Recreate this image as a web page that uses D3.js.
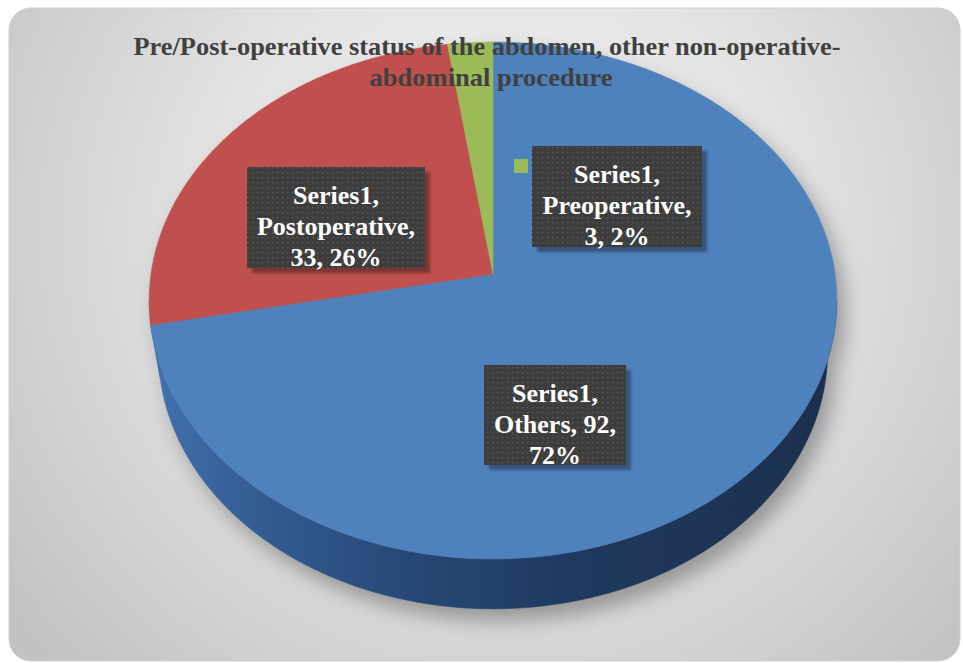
<!DOCTYPE html>
<html><head><meta charset="utf-8">
<script src="https://cdn.jsdelivr.net/npm/d3@7"></script>
<style>html,body{margin:0;padding:0;background:#fff;}svg{display:block;}</style>
</head><body>
<svg id="chart" width="963" height="663"></svg>
<script>
// ---- data ----
const categories = ["Others", "Postoperative", "Preoperative"];
const values = [92, 33, 3];
const percents = ["72%", "26%", "2%"];
const seriesName = "Series1";
const titleLines = ["Pre/Post-operative status of the abdomen, other non-operative-", "abdominal procedure"];

// ---- styling / layout ----
const topColors = ["#4f81bd", "#c0504d", "#9bbb59"];
const sideColors = ["url(#blueSide)", "#3f6ba6", "#6f8a3c"];
const cx = 493, cy = 274;          // projected pie centre
const tilt = 48.4 * Math.PI / 180;  // view tilt
const s = Math.sin(tilt), c = Math.cos(tilt);
const D = 6.48, f = 2216, depth = 0.238;

function proj(theta, r, yUp) {
  const X = r * Math.sin(theta), Z = r * Math.cos(theta);
  const Yc = yUp * c + Z * s;
  const Zc = -yUp * s + Z * c + D;
  return [cx + f * X / Zc, cy - f * Yc / Zc];
}

const svg = d3.select("#chart");
const defs = svg.append("defs");

// background gradient
const bg = defs.append("radialGradient").attr("id", "bgGrad")
  .attr("gradientUnits", "userSpaceOnUse").attr("cx", 500).attr("cy", 230).attr("r", 620);
bg.append("stop").attr("offset", "0").attr("stop-color", "#f3f3f3");
bg.append("stop").attr("offset", "0.45").attr("stop-color", "#e4e4e4");
bg.append("stop").attr("offset", "1").attr("stop-color", "#c2c2c2");

const side = defs.append("linearGradient").attr("id", "blueSide")
  .attr("gradientUnits", "userSpaceOnUse").attr("x1", 150).attr("y1", 0).attr("x2", 840).attr("y2", 0);
[["0", "#4372b0"], ["0.12", "#366097"], ["0.35", "#284a78"], ["0.6", "#1f3a60"], ["1", "#1b2f4c"]]
  .forEach(([o, col]) => side.append("stop").attr("offset", o).attr("stop-color", col));

const blur = defs.append("filter").attr("id", "pieShadow").attr("x", "-20%").attr("y", "-20%").attr("width", "140%").attr("height", "140%");
blur.append("feGaussianBlur").attr("stdDeviation", 10);

const ds = defs.append("filter").attr("id", "boxShadow").attr("x", "-10%").attr("y", "-10%").attr("width", "130%").attr("height", "130%");
ds.append("feDropShadow").attr("dx", 5).attr("dy", 5).attr("stdDeviation", 1.5).attr("flood-color", "#000").attr("flood-opacity", 0.35);

const pat = defs.append("pattern").attr("id", "dots").attr("patternUnits", "userSpaceOnUse")
  .attr("width", 5).attr("height", 5);
pat.append("rect").attr("width", 5).attr("height", 5).attr("fill", "#3d3d3d");
pat.append("rect").attr("x", 2).attr("y", 2).attr("width", 1.3).attr("height", 1.3).attr("fill", "#5c5c5c");

// chart area
svg.append("rect").attr("x", 9).attr("y", 8).attr("width", 951).attr("height", 653)
  .attr("rx", 22).attr("fill", "url(#bgGrad)").attr("stroke", "#d0d0d0").attr("stroke-width", 1);

// pie angles
const pie = d3.pie().sort(null).value(d => d.value);
const arcs = pie(categories.map((k, i) => ({ key: k, value: values[i], pct: percents[i], i })));

function arcPoints(a0, a1, r, yUp) {
  const n = Math.max(2, Math.ceil((a1 - a0) / 0.01));
  return d3.range(n + 1).map(k => proj(a0 + (a1 - a0) * k / n, r, yUp));
}
const line = d3.line();

// shadow
const full = arcPoints(0, 2 * Math.PI, 1, 0);
const fullB = arcPoints(0, 2 * Math.PI, 1, -depth);
const sh = svg.append("g").attr("filter", "url(#pieShadow)").attr("opacity", 0.5)
  .attr("transform", "translate(8,12)");
sh.append("path").attr("d", line(full) + "Z").attr("fill", "#555");
sh.append("path").attr("d", line(fullB) + "Z").attr("fill", "#555");

// visible wall range (silhouette)
const vis0 = Math.acos(-c / D), vis1 = 2 * Math.PI - Math.acos(-c / D);

const walls = svg.append("g");
arcs.forEach(a => {
  const t0 = Math.max(a.startAngle, vis0), t1 = Math.min(a.endAngle, vis1);
  if (t1 <= t0) return;
  const topPts = arcPoints(t0, t1, 1, 0);
  const botPts = arcPoints(t0, t1, 1, -depth).reverse();
  walls.append("path").attr("d", line(topPts.concat(botPts)) + "Z")
    .attr("fill", sideColors[a.data.i]).attr("stroke", sideColors[a.data.i]).attr("stroke-width", 0.5);
});

const tops = svg.append("g");
arcs.forEach(a => {
  const pts = [proj(0, 0, 0)].concat(arcPoints(a.startAngle, a.endAngle, 1, 0));
  tops.append("path").attr("d", line(pts) + "Z")
    .attr("fill", topColors[a.data.i]).attr("stroke", topColors[a.data.i]).attr("stroke-width", 0.6);
});

// title
const title = svg.append("g").attr("font-family", "'Liberation Serif','Times New Roman',serif")
  .attr("font-weight", "bold").attr("fill", "#404040").attr("font-size", 25).attr("text-anchor", "middle");
title.append("text").attr("x", 487).attr("y", 55).attr("textLength", 707).attr("lengthAdjust", "spacingAndGlyphs").text(titleLines[0]);
title.append("text").attr("x", 491).attr("y", 86).attr("textLength", 243).attr("lengthAdjust", "spacingAndGlyphs").text(titleLines[1]);

// data labels (layout: box centre, size)
const labelLayout = [
  { x: 555, y: 415, w: 142, h: 100, lines: d => [seriesName + ",", d.key + ", " + d.value + ",", d.pct] },
  { x: 336, y: 217.5, w: 178, h: 101, lines: d => [seriesName + ",", d.key + ",", d.value + ", " + d.pct] },
  { x: 617, y: 196.5, w: 170, h: 101, lines: d => [seriesName + ",", d.key + ",", d.value + ", " + d.pct], key: true }
];
const labels = svg.append("g").attr("font-family", "'Liberation Serif','Times New Roman',serif")
  .attr("font-weight", "bold").attr("font-size", 26).attr("fill", "#fff").attr("text-anchor", "middle");
arcs.forEach(a => {
  const L = labelLayout[a.data.i];
  const g = labels.append("g");
  g.append("rect").attr("x", L.x - L.w / 2).attr("y", L.y - L.h / 2).attr("width", L.w).attr("height", L.h)
    .attr("fill", "url(#dots)").attr("filter", "url(#boxShadow)");
  const ls = L.lines(a.data);
  ls.forEach((t, k) => {
    g.append("text").attr("x", L.x).attr("y", L.y - 21.5 + (k - 0.5) * 31 + 15.5 + 8).text(t);
  });
  if (L.key) {
    g.append("rect").attr("x", L.x - L.w / 2 - 18).attr("y", L.y - L.h / 2 + 13).attr("width", 14).attr("height", 14)
      .attr("fill", topColors[a.data.i]);
  }
});
</script>
</body></html>
